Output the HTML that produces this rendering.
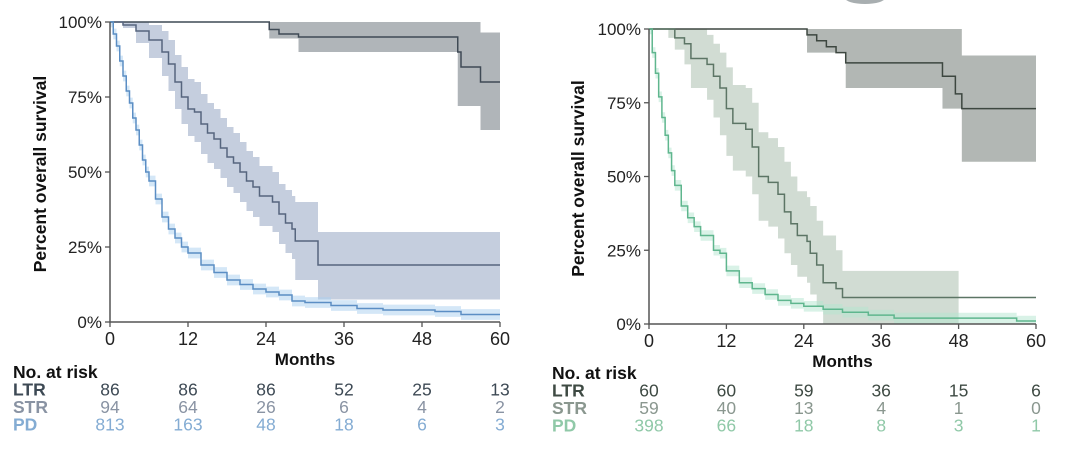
<!DOCTYPE html>
<html><head><meta charset="utf-8"><style>
html,body{margin:0;padding:0;background:#fff;}
svg{display:block;font-family:"Liberation Sans",Arial,sans-serif;}
</style></head><body>
<svg id="chart" width="1080" height="449" viewBox="0 0 1080 449">
<ellipse cx="865" cy="-2" rx="20" ry="6" fill="#a8aeb0"/>
</svg>
<script>
// ---------- data ----------
const xTicks = [0, 12, 24, 36, 48, 60];
const yTicks = [0, 25, 50, 75, 100];
const riskRows = ["LTR", "STR", "PD"];

const L_LTR_t  = [0, 24.5, 26, 29, 53.5, 54, 57, 60];
const L_LTR_s  = [100, 97.5, 96, 95, 90, 85, 80, 80];
const L_LTR_lo = [100, 94.5, 94.5, 90, 72, 72, 64, 64];
const L_LTR_hi = [100, 100, 100, 100, 100, 100, 96.5, 96.5];

const L_STR_t  = [0, 2, 4, 6, 8, 9, 10, 11, 12, 13, 14, 15, 16, 17, 18, 19, 20, 21, 22, 23, 24, 25, 26, 27, 28, 28.5, 32, 60];
const L_STR_s  = [100, 99, 97, 94, 90, 86, 80, 75, 71, 70, 66, 63, 61, 58, 55, 53, 50, 47, 45, 42, 42, 40, 36, 33, 31, 27, 19, 19];
const L_STR_lo = [100, 98, 93, 88, 82, 77, 71, 66, 62, 60, 56, 53, 51, 48, 45, 43, 40, 37, 35, 32, 32, 30, 26, 23, 21, 14, 7.5, 7.5];
const L_STR_hi = [100, 100, 100, 99, 97, 94, 89, 85, 81, 80, 76, 73, 71, 68, 65, 63, 60, 57, 55, 52, 52, 50, 46, 44, 42, 40, 30, 30];

const L_PD_t = [0, 0.5, 1, 1.5, 2, 2.5, 3, 3.5, 4, 4.5, 5, 5.5, 6, 7, 8, 9, 10, 11, 12, 14, 16, 18, 20, 22, 24, 26, 28, 30, 34, 38, 42, 50, 54, 60];
const L_PD_s = [100, 96, 92, 87, 82, 77, 73, 68, 64, 59, 54, 50, 47, 41, 35, 31, 28, 25, 23, 19, 16.5, 14, 12.5, 11, 10, 9, 7, 6.5, 5.5, 4.5, 4, 3.5, 2.5, 2.5];

const L_risk_LTR = [86, 86, 86, 52, 25, 13];
const L_risk_STR = [94, 64, 26, 6, 4, 2];
const L_risk_PD  = [813, 163, 48, 18, 6, 3];

const R_LTR_t  = [0, 24.5, 26, 27.5, 29, 30.5, 45.5, 47.5, 48.5, 60];
const R_LTR_s  = [100, 98, 96, 94, 92, 88.5, 84, 78, 73, 73];
const R_LTR_lo = [100, 92, 92, 92, 92, 80, 73, 73, 55, 55];
const R_LTR_hi = [100, 100, 100, 100, 100, 100, 100, 100, 91, 91];

const R_STR_t  = [0, 3, 4, 5.5, 6.5, 9, 10, 11, 12, 13, 15, 16, 17, 18.5, 20, 21, 22, 23, 24.5, 25, 26, 27, 29, 30, 48, 60];
const R_STR_s  = [100, 100, 97, 95, 90, 88, 84, 80, 73, 68, 66, 60, 50, 48, 44, 38, 34, 30, 28, 24, 20, 14, 12, 9, 9, 9];
const R_STR_lo = [100, 97, 93, 88, 80, 76, 70, 64, 57, 52, 50, 44, 35, 33, 29, 24, 20, 16, 14, 10, 6, 0, 0, 0, 9, 9];
const R_STR_hi = [100, 100, 100, 100, 100, 98, 95, 92, 87, 81, 80, 75, 65, 63, 60, 55, 50, 45, 43, 40, 35, 30, 25, 18, 9, 9];

const R_PD_t = [0, 0.5, 1, 1.5, 2, 2.5, 3, 3.5, 4, 5, 6, 7, 8, 10, 11, 12, 14, 16, 18, 20, 22, 24, 27, 30, 34, 38, 56, 57, 60];
const R_PD_s = [100, 92, 85, 77, 70, 64, 58, 52, 47, 40, 36, 33, 30, 25, 24, 18, 14, 12, 10, 8, 7, 6, 5, 4, 3, 2, 2, 1, 1];

const R_risk_LTR = [60, 60, 59, 36, 15, 6];
const R_risk_STR = [59, 40, 13, 4, 1, 0];
const R_risk_PD  = [398, 66, 18, 8, 3, 1];

// ---------- drawing ----------
const NS = "http://www.w3.org/2000/svg";
const svg = document.getElementById("chart");
function mk(tag, attrs, parent) {
  const e = document.createElementNS(NS, tag);
  for (const k in attrs) e.setAttribute(k, attrs[k]);
  (parent || svg).appendChild(e);
  return e;
}
function stepPath(t, s, X, Y) {
  let d = "M" + X(t[0]) + "," + Y(s[0]);
  for (let i = 1; i < t.length; i++) {
    d += "H" + X(t[i]) + "V" + Y(s[i]);
  }
  return d;
}
function bandPath(t, lo, hi, X, Y) {
  const n = t.length;
  let d = "M" + X(t[0]) + "," + Y(hi[0]);
  for (let i = 1; i < n; i++) d += "H" + X(t[i]) + "V" + Y(hi[i]);
  d += "V" + Y(lo[n - 1]);
  for (let i = n - 1; i >= 1; i--) d += "V" + Y(lo[i - 1]) + "H" + X(t[i - 1]);
  d += "Z";
  return d;
}

function panel(p) {
  const X = v => p.x0 + (v / 60) * (p.x1 - p.x0);
  const Y = v => p.y0 - (v / 100) * (p.y0 - p.y1);
  const g = mk("g", {});
  
  

  const b1 = mk("path", {d: bandPath(p.ltr.t, p.ltr.lo, p.ltr.hi, X, Y), fill: p.ltrBand, "fill-opacity": 0.55}, g);
  
  
  const b2 = mk("path", {d: bandPath(p.str.t, p.str.lo, p.str.hi, X, Y), fill: p.strBand, "fill-opacity": 0.6}, g);
  
  
  const pdLo = p.pd.s.map(v => Math.max(0, v - 1.8));
  const pdHi = p.pd.s.map((v, i) => i === 0 ? 100 : Math.min(100, v + 1.8));
  const b3 = mk("path", {d: bandPath(p.pd.t, pdLo, pdHi, X, Y), fill: p.pdBand, "fill-opacity": 0.5}, g);
  
  

  const l1 = mk("path", {d: stepPath(p.ltr.t, p.ltr.s, X, Y), fill: "none", stroke: p.ltrC, "stroke-width": 1.5}, g);
  
  
  const l2 = mk("path", {d: stepPath(p.str.t, p.str.s, X, Y), fill: "none", stroke: p.strC, "stroke-width": 1.5}, g);
  
  
  const l3 = mk("path", {d: stepPath(p.pd.t, p.pd.s, X, Y), fill: "none", stroke: p.pdC, "stroke-width": 1.5}, g);
  
  

  const ax = mk("path", {d: "M" + p.x0 + "," + p.y1 + "V" + p.y0 + "H" + p.x1, fill: "none", stroke: "#555", "stroke-width": 1.5}, g);
  
  
  xTicks.forEach(v => {
    const tk = mk("line", {x1: X(v), x2: X(v), y1: p.y0, y2: p.y0 + 5, stroke: "#555", "stroke-width": 1.3}, g);
    
    
    const tx = mk("text", {x: X(v), y: p.y0 + 23, "text-anchor": "middle", "font-size": 18, fill: "#222"}, g);
    tx.textContent = v;
    
    
  });
  yTicks.forEach(v => {
    const tk = mk("line", {x1: p.x0 - 5, x2: p.x0, y1: Y(v), y2: Y(v), stroke: "#555", "stroke-width": 1.3}, g);
    
    
    const tx = mk("text", {x: p.x0 - 8, y: Y(v) + 6, "text-anchor": "end", "font-size": 17, fill: "#222"}, g);
    tx.textContent = v + "%";
    
    
  });
  const xt = mk("text", {x: (p.x0 + p.x1) / 2, y: p.y0 + 43, "text-anchor": "middle", "font-size": 17, "font-weight": "bold", fill: "#111"}, g);
  xt.textContent = "Months";
  
  
  const cy = (p.y0 + p.y1) / 2 + 2;
  const yt = mk("text", {x: p.yTitleX, y: cy, "text-anchor": "middle", "font-size": 17.5, "font-weight": "bold", fill: "#111", transform: "rotate(-90 " + p.yTitleX + " " + cy + ")"}, g);
  yt.textContent = "Percent overall survival";
  
  

  const hd = mk("text", {x: p.tableX, y: p.tableY, "font-size": 17.5, "font-weight": "bold", fill: "#111"}, g);
  hd.textContent = "No. at risk";
  
  
  const rows = [p.riskLTR, p.riskSTR, p.riskPD];
  riskRows.forEach((name, r) => {
    const yy = p.tableY + 17.5 * (r + 1);
    const lb = mk("text", {x: p.tableX, y: yy, "font-size": 17.5, "font-weight": "bold", fill: p.rowC[r]}, g);
    lb.textContent = name;
    
    
    rows[r].forEach((v, i) => {
      const tx = mk("text", {x: X(xTicks[i]), y: yy, "text-anchor": "middle", "font-size": 17.5, fill: p.rowC[r]}, g);
      tx.textContent = v;
      
      
    });
  });
}

panel({
  name: "left-panel", x0: 110, x1: 500, y0: 322, y1: 22, yTitleX: 46, tableX: 13, tableY: 378,
  ltr: {t: L_LTR_t, s: L_LTR_s, lo: L_LTR_lo, hi: L_LTR_hi},
  str: {t: L_STR_t, s: L_STR_s, lo: L_STR_lo, hi: L_STR_hi},
  pd: {t: L_PD_t, s: L_PD_s},
  ltrC: "#3f4a55", strC: "#56657e", pdC: "#5b8ec4",
  ltrBand: "#6f7880", strBand: "#9fadc8", pdBand: "#a9d0f0",
  riskLTR: L_risk_LTR, riskSTR: L_risk_STR, riskPD: L_risk_PD,
  rowC: ["#3d4954", "#8993a3", "#84acd3"]
});
panel({
  name: "right-panel", x0: 649, x1: 1036, y0: 324, y1: 29, yTitleX: 584, tableX: 552, tableY: 379,
  ltr: {t: R_LTR_t, s: R_LTR_s, lo: R_LTR_lo, hi: R_LTR_hi},
  str: {t: R_STR_t, s: R_STR_s, lo: R_STR_lo, hi: R_STR_hi},
  pd: {t: R_PD_t, s: R_PD_s},
  ltrC: "#3d4740", strC: "#5c7565", pdC: "#5fb68e",
  ltrBand: "#737b76", strBand: "#b2c4b5", pdBand: "#b4e6cf",
  riskLTR: R_risk_LTR, riskSTR: R_risk_STR, riskPD: R_risk_PD,
  rowC: ["#3e4a43", "#8a978f", "#90c9a8"]
});
</script>
</body></html>
